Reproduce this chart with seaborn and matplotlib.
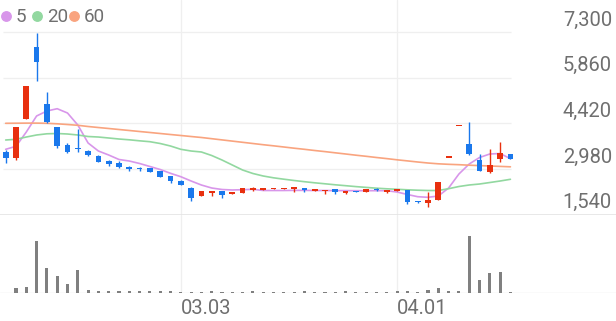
import numpy as np
import pandas as pd
import matplotlib
matplotlib.use("Agg")
import matplotlib.pyplot as plt
import seaborn as sns
from matplotlib import transforms
from matplotlib.lines import Line2D

# ---------------- data ----------------
opens = [3526, 3318, 4559, 6823, 5033, 4316, 3728, 3653, 3558, 3400,
         3242, 3179, 3052, 3021, 3002, 2917, 2749, 2610, 2370, 2127,
         2231, 2276, 2190, 2231, 2317, 2326, 2339, 2339, 2348, 2380,
         2295, 2276, 2339, 2231, 2285, 2263, 2348, 2253, 2276, 2317,
         1979, 1897, 2001, 3330, 4330, 3769, 3264, 2876, 3286, 3454]
highs = [3580, 4316, 5610, 7290, 5402, 4316, 3791, 4253, 3580, 3420,
         3250, 3232, 3060, 3030, 3010, 2930, 2760, 2620, 2402, 2300,
         2280, 2280, 2260, 2375, 2402, 2380, 2375, 2375, 2410, 2385,
         2350, 2330, 2345, 2300, 2290, 2350, 2380, 2320, 2350, 2330,
         1985, 2263, 2579, 3330, 4330, 4464, 3454, 3602, 3833, 3460]
lows = [3179, 3264, 4559, 5768, 4430, 3634, 3476, 3517, 3400, 3190,
        3084, 3020, 2917, 2907, 2880, 2720, 2528, 2470, 1979, 2120,
        2137, 2073, 2180, 2225, 2295, 2320, 2335, 2335, 2244, 2263,
        2290, 2200, 2190, 2200, 2240, 2260, 2276, 2222, 2270, 1875,
        1920, 1770, 2001, 3330, 4330, 3430, 2910, 2860, 3191, 3290]
closes = [3318, 4316, 5610, 6349, 4455, 3706, 3507, 3602, 3422, 3210,
          3138, 3034, 2980, 2970, 2895, 2737, 2595, 2484, 2074, 2295,
          2276, 2168, 2253, 2370, 2370, 2370, 2370, 2370, 2402, 2317,
          2348, 2326, 2253, 2295, 2244, 2348, 2307, 2317, 2348, 1947,
          1928, 1991, 2579, 3330, 4330, 3444, 2926, 3106, 3476, 3290]
volumes = [50, 530, 570, 5170, 2470, 1670, 900, 2270, 330, 230,
           170, 170, 160, 170, 160, 230, 170, 130, 150, 140,
           160, 150, 140, 150, 160, 140, 150, 140, 150, 160,
           150, 140, 150, 160, 140, 150, 140, 150, 160, 230,
           130, 270, 530, 170, 170, 5730, 1330, 2000, 2070, 80]
ma5 = [3602, 3697, 4148, 4654, 4812, 4884, 4748, 4369, 3801, 3548,
       3422, 3280, 3232, 3154, 3059, 2964, 2844, 2737, 2601, 2474,
       2380, 2333, 2317, 2326, 2339, 2301, 2301, 2301, 2305, 2305,
       2301, 2301, 2298, 2298, 2295, 2295, 2295, 2295, 2253, 2175,
       2105, 2086, 2127, 2380, 2822, 3138, 3343, 3454, 3469, 3306]
ma20 = [3896, 3918, 3990, 4054, 4092, 4101, 4085, 4054, 4006, 3990,
        3959, 3927, 3902, 3870, 3842, 3785, 3706, 3602, 3548, 3517,
        3406, 3264, 3106, 2948, 2838, 2759, 2702, 2658, 2617, 2579,
        2544, 2513, 2481, 2453, 2424, 2399, 2374, 2355, 2339, 2323,
        2310, 2301, 2301, 2358, 2427, 2475, 2506, 2553, 2601, 2655]
ma60 = [4423, 4426, 4429, 4429, 4423, 4407, 4385, 4360, 4322, 4290,
        4259, 4227, 4196, 4164, 4133, 4101, 4069, 4038, 4006, 3975,
        3937, 3899, 3861, 3823, 3785, 3747, 3712, 3675, 3637, 3602,
        3564, 3529, 3491, 3454, 3416, 3381, 3343, 3308, 3270, 3236,
        3201, 3169, 3144, 3128, 3116, 3100, 3087, 3075, 3062, 3049]
x_tick_pos = [17, 38]
x_tick_labels = ["03.03", "04.01"]
y_ticks = [1540, 2980, 4420, 5860, 7300]
y_tick_labels = ["1,540", "2,980", "4,420", "5,860", "7,300"]
ma_labels = ["5", "20", "60"]

# ---------------- style ----------------
sns.set_theme(style="white")
plt.rcParams['font.family'] = ['Roboto', 'DejaVu Sans']

RED = '#E8300F'
BLUE = '#1A78EC'
MA_COLORS = ['#D896EA', '#92D8A0', '#F9A47F']
TXT = '#6f6f6f'
GRID = '#efefef'

W, H = 616, 321
fig = plt.figure(figsize=(W / 100, H / 100), dpi=100)
fig.patch.set_facecolor('white')


def rect(x0, y0, x1, y1):
    return [x0 / W, 1 - y1 / H, (x1 - x0) / W, (y1 - y0) / H]


axp = fig.add_axes(rect(0, 0, W, 214.6))
axv = fig.add_axes(rect(0, 214.6, W, 293))

df = pd.DataFrame({'i': np.arange(len(opens)), 'open': opens, 'high': highs,
                   'low': lows, 'close': closes, 'vol': volumes,
                   'ma5': ma5, 'ma20': ma20, 'ma60': ma60})

XL = (-0.553, 59.25)
for ax in (axp, axv):
    ax.set_xlim(*XL)
    for s in ax.spines.values():
        s.set_visible(False)
    ax.set_xticks([])
    ax.set_yticks([])
    ax.set_facecolor('none')
    for xp in x_tick_pos:
        ax.axvline(xp, color=GRID, lw=0.9, zorder=0)

axp.set_ylim(1540, 8317)
axv.set_ylim(0, 7840)

# horizontal grid in price panel
for v in y_ticks[1:]:
    axp.hlines(v, -0.3, 49.1, color=GRID, lw=0.9, zorder=0)
axp.axhline(1540, color='#e4e4e4', lw=1.2, zorder=1)
axv.axhline(0, color='#e6e6e6', lw=1.0, zorder=0)

# moving averages
for col, c in zip(['ma5', 'ma20', 'ma60'], MA_COLORS):
    sns.lineplot(data=df, x='i', y=col, color=c, lw=1.2, ax=axp, zorder=2)
axp.set_xlabel('')
axp.set_ylabel('')

# candles
colors = [RED if c >= o else BLUE for o, c in zip(opens, closes)]
minh = 45
bottoms = [min(o, c) for o, c in zip(opens, closes)]
heights = [max(abs(c - o), minh) for o, c in zip(opens, closes)]
axp.vlines(df['i'], lows, highs, colors=colors, lw=1.0, zorder=3)
axp.bar(df['i'], heights, bottom=bottoms, width=0.56, color=colors,
        linewidth=0, zorder=4)

# volume
axv.bar(df['i'], volumes, width=0.3, color='#808080', linewidth=0, zorder=2)
axv.set_xlim(*XL)

# y tick labels (right, above grid lines)
tr = transforms.offset_copy(
    transforms.blended_transform_factory(axp.transAxes, axp.transData),
    fig=fig, x=0, y=6.5, units='dots')
for v, lab in zip(y_ticks, y_tick_labels):
    axp.text(612 / W, v, lab, transform=tr, ha='right', va='baseline',
             fontsize=14.5, color=TXT)

# x tick labels
trx = transforms.blended_transform_factory(axv.transData, fig.transFigure)
for xp, lab in zip(x_tick_pos, x_tick_labels):
    axv.text(xp, 1 - 314 / H, lab, transform=trx, ha='left', va='baseline',
             fontsize=14.5, color=TXT, clip_on=False)

# legend
leg_circ_x = [6.3, 37.3, 74.0]
leg_txt_x = [16.0, 46.7, 83.3]
for cx, tx, c, lab in zip(leg_circ_x, leg_txt_x, MA_COLORS, ma_labels):
    fig.add_artist(Line2D([cx / W], [1 - 16 / H], marker='o', ms=6.8,
                          color=c, linestyle='', transform=fig.transFigure))
    fig.text(tx / W, 1 - 22.3 / H, lab, ha='left', va='baseline',
             fontsize=13.5, color=TXT)

fig.savefig('out.png', dpi=100, facecolor='white')
